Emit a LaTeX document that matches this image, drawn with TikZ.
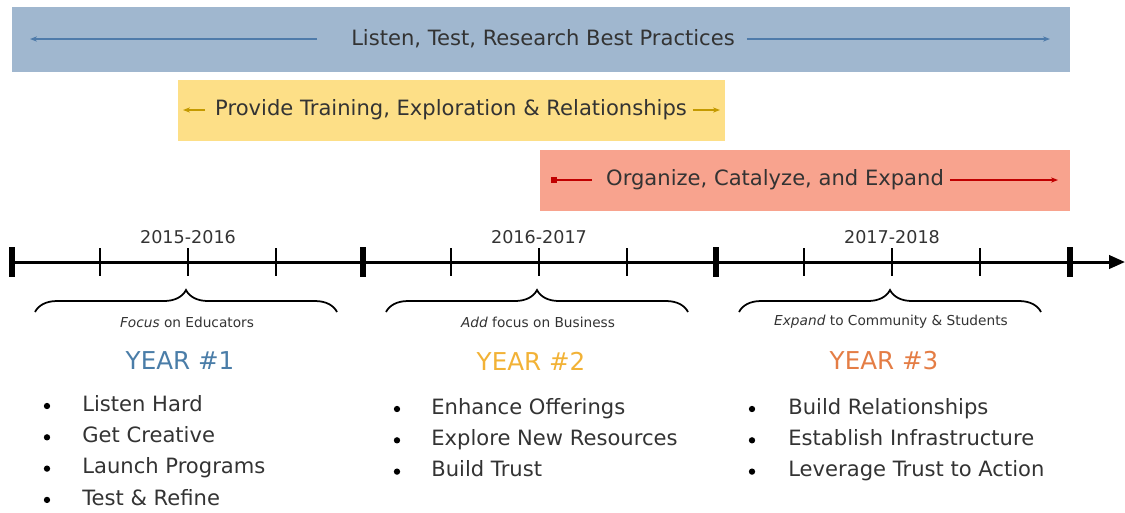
\documentclass[tikz,border=0pt]{standalone}
\usepackage{fontspec}
\setmainfont{DejaVu Sans}
\usetikzlibrary{positioning,calc,arrows.meta,decorations.pathreplacing}

\definecolor{bandblue}{HTML}{A0B7CF}
\definecolor{arrowblue}{HTML}{4F7BAA}
\definecolor{bandyellow}{HTML}{FDDF87}
\definecolor{arrowgold}{HTML}{C49A00}
\definecolor{bandred}{HTML}{F8A38E}
\definecolor{arrowred}{HTML}{C00000}
\definecolor{yearblue}{HTML}{4A7DA8}
\definecolor{yeargold}{HTML}{F2B236}
\definecolor{yearorange}{HTML}{E47D45}
\definecolor{inkgray}{HTML}{333333}

\tikzset{
  bandtext/.style={inner sep=1pt, text=inkgray, font=\fontsize{12}{14}\selectfont},
  bandarrow/.style={line width=0.8pt, -{Stealth[length=4pt,width=3pt]}},
  tick/.style={line width=1.5pt},
  bigtick/.style={line width=3pt},
  span/.style={text=inkgray, font=\fontsize{10}{12}\selectfont},
  focus/.style={text=inkgray, font=\fontsize{7.8}{9}\selectfont},
  yeartitle/.style={font=\fontsize{14}{16}\selectfont},
  dot/.style={circle, fill=black, inner sep=0pt, minimum size=3.6pt},
  item/.style={anchor=west, inner sep=0pt, text height=8.5pt, text depth=2.5pt,
    text=inkgray, font=\fontsize{12}{14}\selectfont},
}

\begin{document}
\begin{tikzpicture}[x=0.02cm, y=-0.02cm]
\useasboundingbox (0,0) rectangle (1125,512);

% bands
\fill[bandblue] (12,7) rectangle (1070,72);
\fill[bandyellow] (178,80) rectangle (725,141);
\fill[bandred] (540,150) rectangle (1070,211);

\node[bandtext] (listen) at (543,39) {Listen, Test, Research Best Practices};
\coordinate (listenL) at (30,39);
\coordinate (listenR) at (1050,39);
\draw[bandarrow, arrowblue] (listen.west) ++(-32,0) -- (listenL);
\draw[bandarrow, arrowblue] (listen.east) ++(10,0) -- (listenR);

\node[bandtext] (train) at (451,110) {Provide Training, Exploration \& Relationships};
\coordinate (trainL) at (183,110);
\coordinate (trainR) at (720,110);
\draw[bandarrow, arrowgold] (train.west) ++(-8,0) -- (trainL);
\draw[bandarrow, arrowgold] (train.east) ++(4,0) -- (trainR);

\node[bandtext] (grow) at (775,180) {Organize, Catalyze, and Expand};
\coordinate (growL) at (551,180);
\coordinate (growR) at (1058,180);
\draw[line width=0.8pt, arrowred, {Square[length=3.5pt,width=3.5pt]}-] (growL) -- ($(grow.west)+(-12,0)$);
\draw[bandarrow, arrowred] (grow.east) ++(4,0) -- (growR);

% timeline
\coordinate (tlstart) at (10,262);
\coordinate (tlend) at (1125,262);
\draw[line width=1.7pt, -{Triangle[length=9pt,width=7.5pt]}] (tlstart) -- (tlend);
\foreach \x in {100,188,276,451,539,627,804,892,980}
  \draw[tick] (\x,248) -- (\x,276);
\foreach \x in {12,363,716,1070}
  \draw[bigtick] (\x,247) -- (\x,277);

% years
\foreach \x/\n/\yrs/\what/\col in {
    188/1/2015-2016/\textit{Focus} on Educators/yearblue,
    539/2/2016-2017/\textit{Add} focus on Business/yeargold,
    892/3/2017-2018/\textit{Expand} to Community \& Students/yearorange} {
  \node[span] (span\n) at (\x,237) {\yrs};
  \draw[line width=1pt, decorate, decoration={brace, amplitude=0.44cm}]
    (\x-153,312) -- (\x+149,312);
  \node[focus] (focus\n) at (\x-1,322) {\what};
  \node[yeartitle, text=\col] (year\n) at (\x-8,361) {YEAR \#\n};
}

% lists
\foreach \txt [count=\i] in {Listen Hard, Get Creative, Launch Programs, Test \& Refine} {
  \node[dot] (dot1-\i) at (47,{406+31.3*(\i-1)}) {};
  \node[item] (item1-\i) at (82,{406+31.3*(\i-1)}) {\txt};
}
\foreach \txt [count=\i] in {Enhance Offerings, Explore New Resources, Build Trust} {
  \node[dot] (dot2-\i) at (397,{409+31.3*(\i-1)}) {};
  \node[item] (item2-\i) at (431,{409+31.3*(\i-1)}) {\txt};
}
\foreach \txt [count=\i] in {Build Relationships, Establish Infrastructure, Leverage Trust to Action} {
  \node[dot] (dot3-\i) at (752,{409+31.3*(\i-1)}) {};
  \node[item] (item3-\i) at (788,{409+31.3*(\i-1)}) {\txt};
}
\end{tikzpicture}
\end{document}
